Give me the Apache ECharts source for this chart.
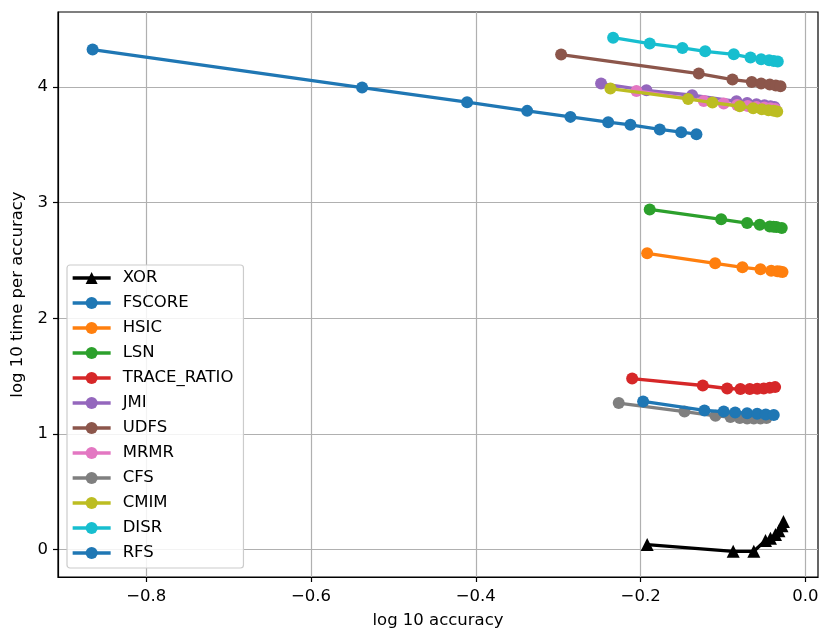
<!DOCTYPE html>
<html>
<head>
<meta charset="utf-8">
<script src="https://cdn.jsdelivr.net/npm/echarts@6/dist/echarts.min.js"></script>
<style>
html,body{margin:0;padding:0;background:#fff;}
#chart{width:831px;height:642px;}
</style>
</head>
<body>
<div id="chart"></div>
<script>
// ---- data (log10 accuracy, log10 time per accuracy) ----
const seriesNames = ["XOR","FSCORE","HSIC","LSN","TRACE_RATIO","JMI","UDFS","MRMR","CFS","CMIM","DISR","RFS"];
const seriesColors = ["#000000","#1f77b4","#ff7f0e","#2ca02c","#d62728","#9467bd","#8c564b","#e377c2","#7f7f7f","#bcbd22","#17becf","#1f77b4"];

const XOR_x = [-0.1921,-0.0877,-0.0627,-0.0485,-0.0425,-0.0364,-0.0322,-0.0285,-0.0267];
const XOR_y = [0.043,-0.015,-0.015,0.078,0.099,0.130,0.164,0.207,0.242];

const FSCORE_x = [-0.865,-0.538,-0.4106,-0.3377,-0.2852,-0.2394,-0.2124,-0.1768,-0.1508,-0.1323];
const FSCORE_y = [4.324,3.996,3.869,3.794,3.742,3.696,3.673,3.633,3.610,3.592];

const HSIC_x = [-0.1921,-0.1096,-0.0765,-0.0546,-0.0416,-0.0343,-0.0310,-0.0279];
const HSIC_y = [2.562,2.476,2.441,2.424,2.412,2.407,2.404,2.401];

const LSN_x = [-0.189,-0.1023,-0.0708,-0.0555,-0.0433,-0.0388,-0.0352,-0.0288];
const LSN_y = [2.942,2.856,2.824,2.809,2.795,2.792,2.789,2.781];

const TRACE_RATIO_x = [-0.2103,-0.1246,-0.095,-0.0789,-0.0676,-0.0586,-0.0506,-0.0433,-0.0368];
const TRACE_RATIO_y = [1.479,1.419,1.393,1.388,1.388,1.390,1.393,1.399,1.405];

const JMI_x = [-0.248,-0.193,-0.1375,-0.0837,-0.0708,-0.0595,-0.0498,-0.0425,-0.0376];
const JMI_y = [4.030,3.972,3.929,3.877,3.863,3.851,3.843,3.834,3.828];

const UDFS_x = [-0.2965,-0.1295,-0.0886,-0.0652,-0.0538,-0.0433,-0.036,-0.0303];
const UDFS_y = [4.281,4.117,4.065,4.044,4.030,4.022,4.013,4.007];

const MRMR_x = [-0.2051,-0.1234,-0.0992,-0.0829,-0.07,-0.0595,-0.0498,-0.0425,-0.0368];
const MRMR_y = [3.966,3.880,3.857,3.845,3.837,3.828,3.823,3.817,3.811];

const CFS_x = [-0.2266,-0.1468,-0.1092,-0.091,-0.0797,-0.0708,-0.0627,-0.0546,-0.0473];
const CFS_y = [1.267,1.194,1.157,1.146,1.137,1.134,1.134,1.134,1.137];

const CMIM_x = [-0.2367,-0.1424,-0.1129,-0.0797,-0.0635,-0.053,-0.0449,-0.0385,-0.0343];
const CMIM_y = [3.987,3.897,3.866,3.834,3.817,3.808,3.800,3.794,3.788];

const DISR_x = [-0.2334,-0.189,-0.1493,-0.1217,-0.087,-0.0667,-0.0538,-0.0441,-0.0385,-0.0336];
const DISR_y = [4.427,4.376,4.338,4.309,4.283,4.255,4.240,4.231,4.225,4.220];

const RFS_x = [-0.197,-0.1226,-0.0992,-0.0853,-0.0708,-0.0586,-0.0482,-0.0385];
const RFS_y = [1.281,1.203,1.194,1.186,1.180,1.174,1.168,1.163];

const xTicks = [-0.8,-0.6,-0.4,-0.2,0.0];
const yTicks = [0,1,2,3,4];

const seriesX = [XOR_x,FSCORE_x,HSIC_x,LSN_x,TRACE_RATIO_x,JMI_x,UDFS_x,MRMR_x,CFS_x,CMIM_x,DISR_x,RFS_x];
const seriesY = [XOR_y,FSCORE_y,HSIC_y,LSN_y,TRACE_RATIO_y,JMI_y,UDFS_y,MRMR_y,CFS_y,CMIM_y,DISR_y,RFS_y];

const FONT = "DejaVu Sans";
const fmtX = v => (v < -1e-9 ? "\u2212" : "") + Math.abs(v).toFixed(1);

const series = seriesNames.map((name, i) => ({
  name: name,
  type: "line",
  data: seriesX[i].map((x, k) => [x, seriesY[i][k]]),
  symbol: i === 0 ? "triangle" : "circle",
  symbolSize: i === 0 ? 13 : 12,
  showSymbol: true,
  itemStyle: { color: seriesColors[i], opacity: 1 },
  lineStyle: { color: seriesColors[i], width: 3.3 },
  emphasis: { disabled: true },
  z: 2 + i * 0.01
}));

const chart = echarts.init(document.getElementById("chart"), null, { renderer: "canvas" });
chart.setOption({
  animation: false,
  backgroundColor: "#fff",
  grid: { left: 58, right: 13, top: 12, bottom: 65, show: true, borderColor: "#000", borderWidth: 1.2, backgroundColor: "transparent" },
  xAxis: {
    type: "value",
    min: -0.907, max: 0.0152,
    name: "log 10 accuracy",
    nameLocation: "middle",
    nameGap: 35,
    nameTextStyle: { fontFamily: FONT, fontSize: 16.5, color: "#000" },
    axisLine: { show: true, onZero: false, lineStyle: { color: "#000", width: 1.2 } },
    axisTick: { show: true, inside: false, length: 5, lineStyle: { color: "#000", width: 1.2 }, customValues: xTicks },
    axisLabel: { fontFamily: FONT, fontSize: 16.5, color: "#000", margin: 11, formatter: fmtX, customValues: xTicks },
    splitLine: { show: true, lineStyle: { color: "#b0b0b0", width: 1.2 } }
  },
  yAxis: {
    type: "value",
    min: -0.237, max: 4.649,
    name: "log 10 time per accuracy",
    nameLocation: "middle",
    nameGap: 31,
    nameTextStyle: { fontFamily: FONT, fontSize: 16.5, color: "#000" },
    axisLine: { show: true, onZero: false, lineStyle: { color: "#000", width: 1.2 } },
    axisTick: { show: true, inside: false, length: 5, lineStyle: { color: "#000", width: 1.2 }, customValues: yTicks },
    axisLabel: { fontFamily: FONT, fontSize: 16.5, color: "#000", margin: 10, formatter: v => String(Math.round(v)), customValues: yTicks },
    splitLine: { show: true, lineStyle: { color: "#b0b0b0", width: 1.2 } }
  },
  legend: {
    orient: "vertical",
    left: 67, top: 265,
    padding: [3, 10, 5, 4],
    itemWidth: 38, itemHeight: 15, itemGap: 5,
    backgroundColor: "rgba(255,255,255,0.85)",
    borderColor: "#cccccc", borderWidth: 1.2, borderRadius: 3,
    lineStyle: { width: 3.3 },
    textStyle: { fontFamily: FONT, fontSize: 16.5, color: "#000", lineHeight: 20, padding: [0, 0, 0, 7] },
    data: seriesNames.map((n, i) => ({ name: n }))
  },
  series: series
});
</script>
</body>
</html>
